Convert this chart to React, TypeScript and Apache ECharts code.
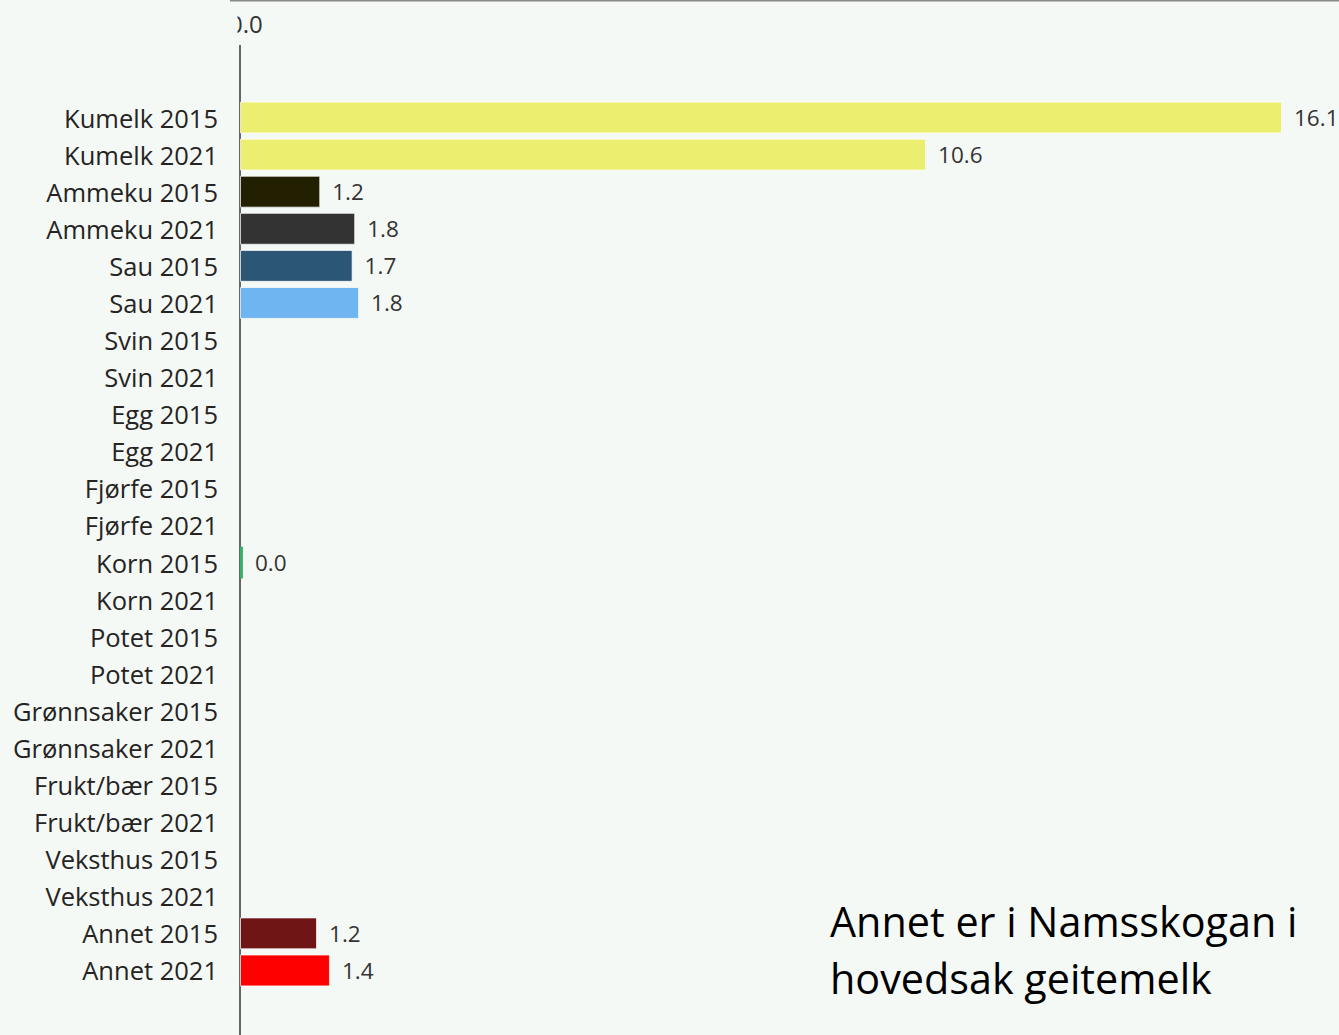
import React, { useEffect, useRef } from "react";
import * as echarts from "echarts";

const categories = [
  "Kumelk 2015", "Kumelk 2021", "Ammeku 2015", "Ammeku 2021", "Sau 2015", "Sau 2021",
  "Svin 2015", "Svin 2021", "Egg 2015", "Egg 2021", "Fjørfe 2015", "Fjørfe 2021",
  "Korn 2015", "Korn 2021", "Potet 2015", "Potet 2021", "Grønnsaker 2015", "Grønnsaker 2021",
  "Frukt/bær 2015", "Frukt/bær 2021", "Veksthus 2015", "Veksthus 2021", "Annet 2015", "Annet 2021",
];
const values: (number | null)[] = [
  16.1, 10.6, 1.24, 1.78, 1.74, 1.84,
  null, null, null, null, null, null,
  0.045, null, null, null, null, null,
  null, null, null, null, 1.19, 1.39,
];
const colors = [
  "#ebee6e", "#ebee6e", "#222000", "#333333", "#2c5675", "#6fb5f2",
  "#999", "#999", "#999", "#999", "#999", "#999",
  "#35b06b", "#999", "#999", "#999", "#999", "#999",
  "#999", "#999", "#999", "#999", "#6f1515", "#ff0000",
];
const axisTickLabel = "0.0";
const noteLines = ["Annet er i Namsskogan i", "hovedsak geitemelk"];

const BG = "#f5f9f6";

export default function App() {
  const ref = useRef<HTMLDivElement>(null);
  useEffect(() => {
    if (!ref.current) return;
    const chart = echarts.init(ref.current, null, { renderer: "svg" });
    chart.setOption({
      animation: false,
      backgroundColor: BG,
      grid: { left: 240, top: 99, width: 1042, height: 890 },
      xAxis: {
        type: "value",
        min: 0,
        max: 16.1,
        show: false,
      },
      yAxis: {
        type: "category",
        inverse: true,
        data: categories,
        axisLine: { show: false },
        axisTick: { show: false },
        axisLabel: {
          margin: 22,
          fontSize: 25.5,
          fontFamily: "Open Sans",
          color: "#252423",
        },
      },
      series: [
        {
          type: "bar",
          barCategoryGap: "14%",
          data: values.map((v, i) => ({
            value: v,
            itemStyle:
              v != null && v > 0.5
                ? { color: colors[i], borderColor: "rgba(255,255,255,0.7)", borderWidth: 1 }
                : { color: colors[i] },
          })),
          label: {
            show: true,
            position: "right",
            distance: 12,
            fontSize: 22.5,
            fontFamily: "Open Sans",
            color: "#333333",
            formatter: (p: any) => (p.value == null ? "" : Number(p.value).toFixed(1)),
          },
        },
      ],
      graphic: [
        { type: "line", shape: { x1: 230, y1: 0.5, x2: 1339, y2: 0.5 }, style: { stroke: "#8a8a8a", lineWidth: 2 } },
        { type: "line", shape: { x1: 240, y1: 45, x2: 240, y2: 1035 }, style: { stroke: "#333333", lineWidth: 1.5 } },
        {
          type: "text",
          x: 229,
          y: 23,
          style: { text: axisTickLabel, fontSize: 24, fontFamily: "Open Sans", fill: "#333333", align: "left", verticalAlign: "middle" },
        },
        { type: "rect", shape: { x: 0, y: 6, width: 237.5, height: 34 }, style: { fill: BG } },
        {
          type: "text",
          x: 830,
          y: 921,
          style: { text: noteLines[0], fontSize: 41.3, fontFamily: "Open Sans", fill: "#000000", align: "left", verticalAlign: "middle" },
        },
        {
          type: "text",
          x: 830,
          y: 978,
          style: { text: noteLines[1], fontSize: 41.3, fontFamily: "Open Sans", fill: "#000000", align: "left", verticalAlign: "middle" },
        },
      ],
    });
    return () => chart.dispose();
  }, []);
  return <div ref={ref} style={{ position: "fixed", left: 0, top: 0, width: 1339, height: 1035 }} />;
}
